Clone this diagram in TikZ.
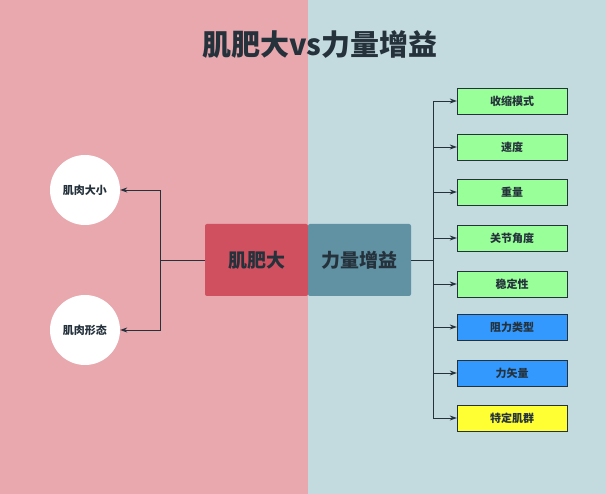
\documentclass[tikz,border=0pt]{standalone}
\usepackage{fontspec}
\setmainfont{Noto Sans CJK SC}
\usetikzlibrary{arrows.meta}
\definecolor{pinkbg}{HTML}{E8A8AE}
\definecolor{bluebg}{HTML}{C3DADF}
\definecolor{redbox}{HTML}{D0505F}
\definecolor{bluebox}{HTML}{6092A4}
\definecolor{darktext}{HTML}{25323C}
\definecolor{greenbox}{HTML}{99FF99}
\definecolor{bluecat}{HTML}{3399FF}
\definecolor{yellowbox}{HTML}{FFFF33}
\begin{document}
\begin{tikzpicture}[
  x=1pt, y=-1pt,
  centerbox/.style={rectangle, rounded corners=2pt, minimum width=103pt, minimum height=72pt, text=darktext, font=\fontsize{19}{19}\selectfont\bfseries},
  circlenode/.style={circle, fill=white, minimum size=70pt, text=darktext, font=\fontsize{11}{11}\selectfont\bfseries},
  factorbox/.style={rectangle, draw=darktext, thin, minimum width=110pt, minimum height=26pt, text=darktext, font=\fontsize{11}{11}\selectfont\bfseries},
  link/.style={-{Stealth[length=7pt,width=5pt]}, darktext, line width=0.8pt}
]
% Background halves
\fill[pinkbg] (0,0) rectangle (308,494);
\fill[bluebg] (308,0) rectangle (606,494);

% Title
\node[text=darktext, font=\fontsize{29}{29}\selectfont\bfseries] (title) at (320,45) {肌肥大vs力量增益};

% Center nodes
\node[centerbox, fill=redbox] (hyper) at (256.5,260) {肌肥大};
\node[centerbox, fill=bluebox] (strength) at (359.5,260) {力量增益};

% Left circles
\node[circlenode] (size) at (85,190) {肌肉大小};
\node[circlenode] (shape) at (85,330) {肌肉形态};

\coordinate (lsplit) at (160,260);
\draw[darktext, line width=0.8pt] (hyper.west) -- (lsplit);
\draw[link] (lsplit) |- (size.east);
\draw[link] (lsplit) |- (shape.east);

% Right factors
\coordinate (rsplit) at (433,260);
\draw[darktext, line width=0.8pt] (strength.east) -- (rsplit);
\foreach \name/\y/\col [count=\i] in {收缩模式/101/greenbox, 速度/147/greenbox, 重量/192/greenbox, 关节角度/238/greenbox, 稳定性/284/greenbox, 阻力类型/327/bluecat, 力矢量/373/bluecat, 特定肌群/418/yellowbox}{
  \node[factorbox, fill=\col] (f\i) at (512,\y) {\name};
  \draw[link] (rsplit) |- (f\i.west);
}
\end{tikzpicture}
\end{document}
